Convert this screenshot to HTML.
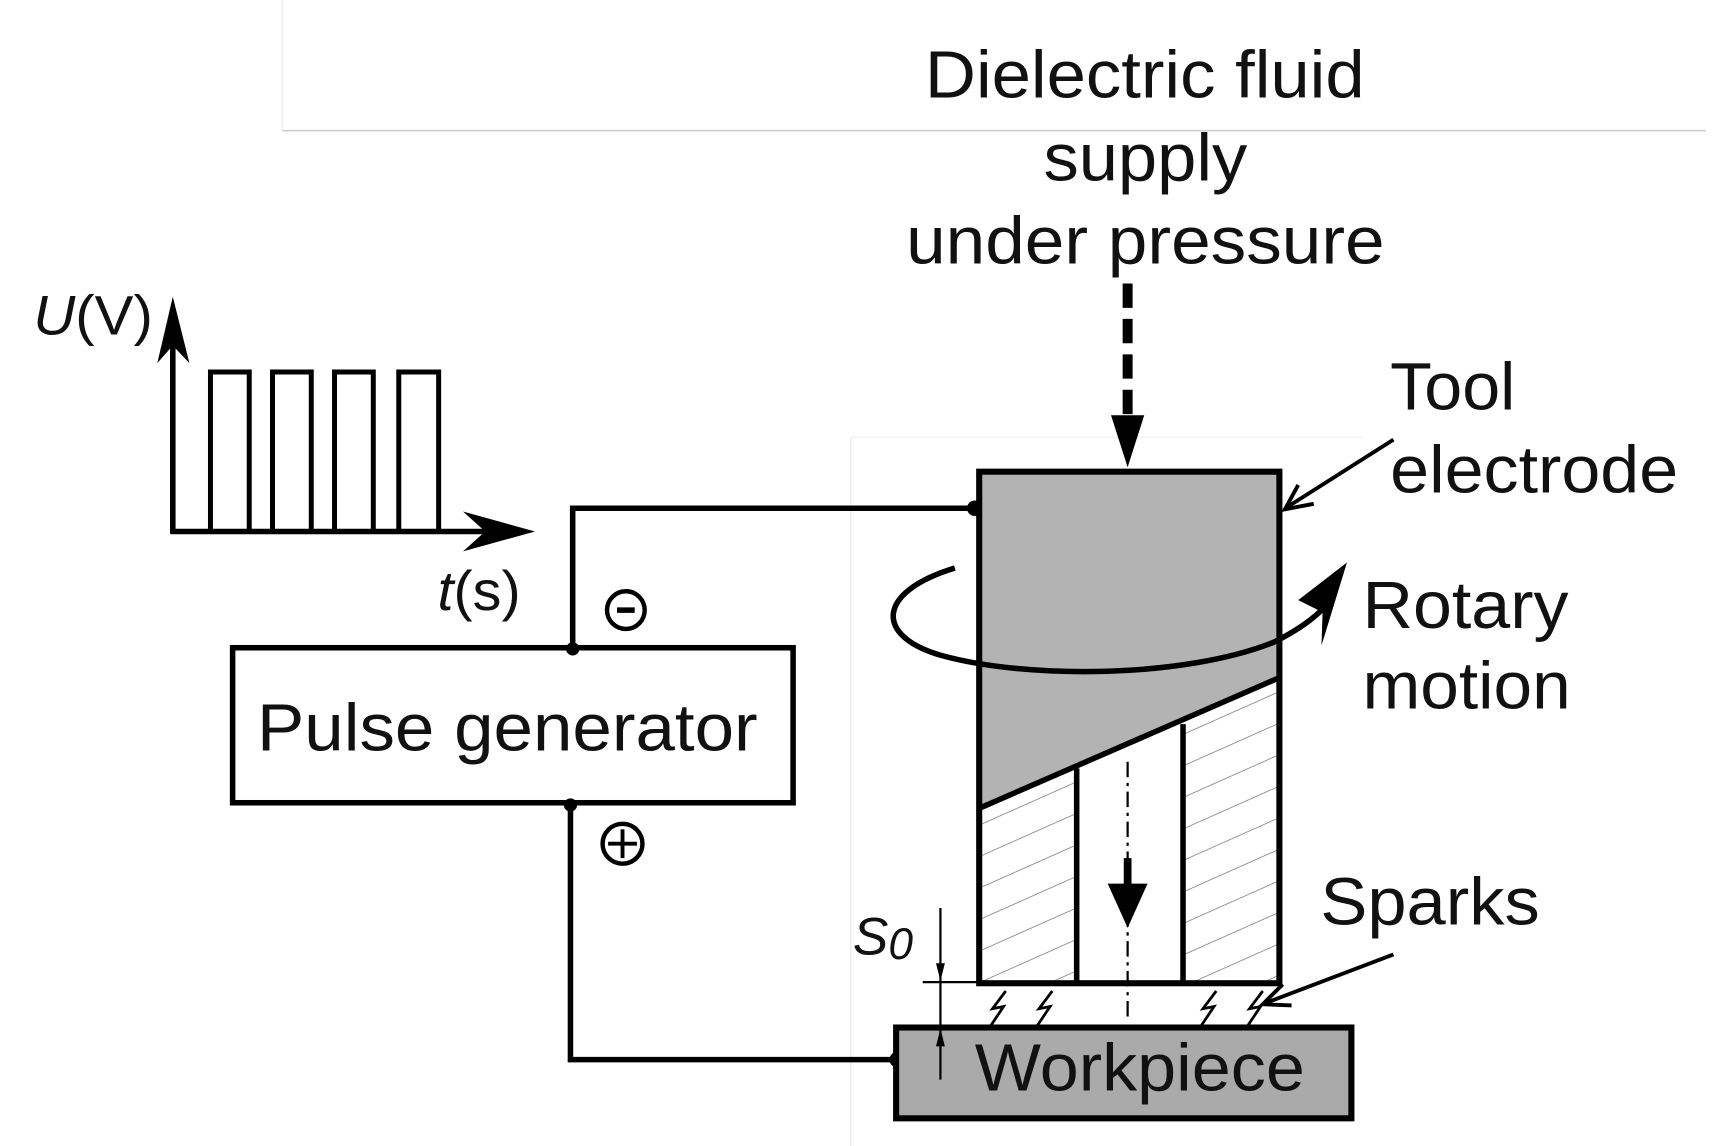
<!DOCTYPE html>
<html><head><meta charset="utf-8"><style>
html,body{margin:0;padding:0;background:#fff;width:1728px;height:1146px;overflow:hidden}
svg{display:block}
text{font-family:"Liberation Sans",sans-serif;fill:#111}
</style></head><body>
<svg width="1728" height="1146" viewBox="0 0 1560 1035" preserveAspectRatio="none" xmlns="http://www.w3.org/2000/svg">
<defs>
<pattern id="h" patternUnits="userSpaceOnUse" width="60" height="26" patternTransform="rotate(-24)">
<line x1="0" y1="0" x2="60" y2="0" stroke="#777" stroke-width="1.3"/>
</pattern>
</defs>
<line x1="255" y1="0" x2="255" y2="118" stroke="#eee" stroke-width="1.5"/>
<line x1="255" y1="118" x2="1540" y2="118" stroke="#ccc" stroke-width="1.5"/>
<line x1="768" y1="395" x2="768" y2="1040" stroke="#eee" stroke-width="1.5"/>
<line x1="768" y1="395" x2="1230" y2="395" stroke="#f2f2f2" stroke-width="1.5"/>

<g font-size="60" lengthAdjust="spacingAndGlyphs">
<text x="835" y="88" textLength="397" lengthAdjust="spacingAndGlyphs">Dielectric fluid</text>
<text x="942" y="163" textLength="184" lengthAdjust="spacingAndGlyphs">supply</text>
<text x="818" y="238" textLength="432" lengthAdjust="spacingAndGlyphs">under pressure</text>
<text x="1255" y="370" textLength="113" lengthAdjust="spacingAndGlyphs">Tool</text>
<text x="1255" y="445" textLength="260" lengthAdjust="spacingAndGlyphs">electrode</text>
<text x="1230" y="567" textLength="186" lengthAdjust="spacingAndGlyphs">Rotary</text>
<text x="1230" y="640" textLength="188" lengthAdjust="spacingAndGlyphs">motion</text>
<text x="1192" y="835" textLength="198" lengthAdjust="spacingAndGlyphs">Sparks</text>
<text x="232" y="678" textLength="452" lengthAdjust="spacingAndGlyphs">Pulse generator</text>
</g>

<line x1="1018" y1="256" x2="1018" y2="385" stroke="#000" stroke-width="9" stroke-dasharray="22,10"/>
<polygon points="1003,375 1033,375 1018,422" fill="#000"/>

<text x="30" y="302" font-size="50" textLength="108" lengthAdjust="spacingAndGlyphs"><tspan font-style="italic">U</tspan>(V)</text>
<line x1="156" y1="482" x2="156" y2="290" stroke="#000" stroke-width="5"/>
<polygon points="156,268 142,328 156,312 171,328" fill="#000"/>
<line x1="154" y1="480" x2="460" y2="480" stroke="#000" stroke-width="5"/>
<polygon points="483,480 418,462 438,480 418,498" fill="#000"/>
<g fill="none" stroke="#000" stroke-width="4.5">
<polyline points="190,480 190,336 225,336 225,480"/>
<polyline points="246,480 246,336 281,336 281,480"/>
<polyline points="302,480 302,336 337,336 337,480"/>
<polyline points="360,480 360,336 396,336 396,480"/>
</g>
<text x="395" y="551" font-size="50" textLength="75" lengthAdjust="spacingAndGlyphs"><tspan font-style="italic">t</tspan>(s)</text>

<polyline points="517,585 517,459 880,459" fill="none" stroke="#000" stroke-width="5"/>
<circle cx="517" cy="586" r="6" fill="#000"/>
<circle cx="880" cy="459" r="7" fill="#000"/>
<circle cx="565" cy="551" r="17" fill="none" stroke="#000" stroke-width="4"/>
<line x1="557" y1="551" x2="573" y2="551" stroke="#000" stroke-width="5"/>
<rect x="210" y="585" width="506" height="140" fill="none" stroke="#000" stroke-width="5"/>
<circle cx="515" cy="727" r="6" fill="#000"/>
<circle cx="562" cy="762" r="18" fill="none" stroke="#000" stroke-width="4"/>
<line x1="549" y1="762" x2="575" y2="762" stroke="#000" stroke-width="3.5"/>
<line x1="562" y1="749" x2="562" y2="775" stroke="#000" stroke-width="3.5"/>
<polyline points="515,727 515,957 810,957" fill="none" stroke="#000" stroke-width="5"/>
<circle cx="810" cy="957" r="7" fill="#000"/>

<rect x="884" y="426" width="271" height="462" fill="#fff"/>
<polygon points="884,426 1155,426 1155,612 884,730" fill="#b3b3b3"/>
<polygon points="884,730 972,692 972,888 884,888" fill="url(#h)"/>
<polygon points="1068,654 1155,616 1155,888 1068,888" fill="url(#h)"/>
<line x1="884" y1="730" x2="1155" y2="612" stroke="#000" stroke-width="5"/>
<line x1="972" y1="694" x2="972" y2="888" stroke="#000" stroke-width="5"/>
<line x1="1068" y1="654" x2="1068" y2="888" stroke="#000" stroke-width="5"/>
<rect x="884" y="426" width="271" height="462" fill="none" stroke="#000" stroke-width="5.5"/>
<line x1="1018" y1="688" x2="1018" y2="920" stroke="#000" stroke-width="2" stroke-dasharray="14,5,3,5"/>
<line x1="1018" y1="775" x2="1018" y2="805" stroke="#000" stroke-width="7"/>
<polygon points="1000,798 1036,798 1018,838" fill="#000"/>

<path d="M862,513 C790,535 790,575 850,592 C930,614 1070,612 1150,580 C1170,570 1185,560 1196,548" fill="none" stroke="#000" stroke-width="5"/>
<polygon points="1216,508 1172,542 1194,553 1193,583" fill="#000"/>

<line x1="1258" y1="397" x2="1162" y2="458" stroke="#000" stroke-width="3.5"/>
<polyline points="1172,438 1160,460 1186,455" fill="none" stroke="#000" stroke-width="3.5"/>
<line x1="1258" y1="862" x2="1142" y2="906" stroke="#000" stroke-width="3.5"/>
<polyline points="1158,889 1140,907 1166,908" fill="none" stroke="#000" stroke-width="3.5"/>

<g fill="none" stroke="#000" stroke-width="2.5">
<polyline points="908,895 896,911 906,909 894,927"/>
<polyline points="950,895 938,911 948,909 936,927"/>
<polyline points="1098,895 1086,911 1096,909 1084,927"/>
<polyline points="1140,895 1128,911 1138,909 1126,927"/>
</g>

<rect x="809" y="928" width="411" height="82" fill="#aaa" stroke="#000" stroke-width="5.5"/>
<text x="880" y="985" font-size="60" textLength="298" lengthAdjust="spacingAndGlyphs">Workpiece</text>

<text x="770" y="862" font-size="48" font-style="italic">S<tspan font-size="40" dy="4">0</tspan></text>
<line x1="849" y1="820" x2="849" y2="975" stroke="#000" stroke-width="2"/>
<polygon points="845,870 853,870 849,886" fill="#000"/>
<polygon points="845,945 853,945 849,929" fill="#000"/>
<line x1="833" y1="887" x2="884" y2="887" stroke="#000" stroke-width="2"/>
</svg>
</body></html>
